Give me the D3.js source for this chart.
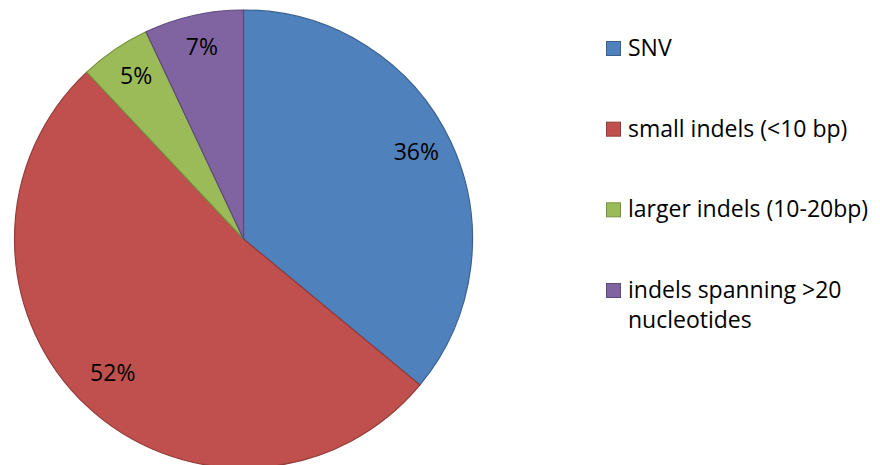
<!DOCTYPE html>
<html>
<head>
<meta charset="utf-8">
<script src="https://cdn.jsdelivr.net/npm/d3@7"></script>
<style>
  body { margin: 0; background: #fff; }
  text { font-family: "Open Sans", "Liberation Sans", sans-serif; fill: #000; }
</style>
</head>
<body>
<script>
const width = 880;
const height = 465;

// chart data
const categories = ["SNV", "small indels (<10 bp)", "larger indels (10-20bp)", "indels spanning >20 nucleotides"];
const legendLines = [["SNV"], ["small indels (<10 bp)"], ["larger indels (10-20bp)"], ["indels spanning >20", "nucleotides"]];
const values = [36, 52, 5, 7];
const colors = ["#4f81bd", "#c0504d", "#9bbb59", "#8064a2"];
const borders = ["#3a6090", "#923c3a", "#76913f", "#5f4a7c"];

const svg = d3.select("body").append("svg")
  .attr("width", width)
  .attr("height", height);

const cx = 243.5, cy = 239, radius = 229;

const pie = d3.pie().sort(null).value(d => d);
const arcs = pie(values);

const arc = d3.arc().innerRadius(0).outerRadius(radius);
const labelArc = d3.arc().innerRadius(191).outerRadius(191);

const g = svg.append("g")
  .attr("transform", `translate(${cx},${cy})`);

g.selectAll("path")
  .data(arcs)
  .enter().append("path")
  .attr("d", arc)
  .attr("fill", (d, i) => colors[i])
  .attr("stroke", (d, i) => borders[i])
  .attr("stroke-width", 1.2)
  .attr("stroke-linejoin", "round");

g.selectAll("text.label")
  .data(arcs)
  .enter().append("text")
  .attr("class", "label")
  .attr("transform", d => `translate(${labelArc.centroid(d)})`)
  .attr("text-anchor", "middle")
  .attr("dy", "0.12em")
  .style("font-size", "23px")
  .text(d => d.data + "%");

// legend
const legend = svg.append("g")
  .attr("transform", "translate(606,0)");

const rowY = d3.scaleLinear().domain([0, 3]).range([56, 298]);

const item = legend.selectAll("g.item")
  .data(categories)
  .enter().append("g")
  .attr("class", "item")
  .attr("transform", (d, i) => `translate(0,${rowY(i)})`);

item.append("rect")
  .attr("x", 0.5)
  .attr("y", -14.5)
  .attr("width", 14)
  .attr("height", 14)
  .attr("fill", (d, i) => colors[i])
  .attr("stroke", (d, i) => borders[i]);

item.append("text")
  .style("font-size", "23px")
  .selectAll("tspan")
  .data((d, i) => legendLines[i])
  .enter().append("tspan")
  .attr("x", 22)
  .attr("y", (d, j) => j * 30)
  .text(d => d);
</script>
</body>
</html>
